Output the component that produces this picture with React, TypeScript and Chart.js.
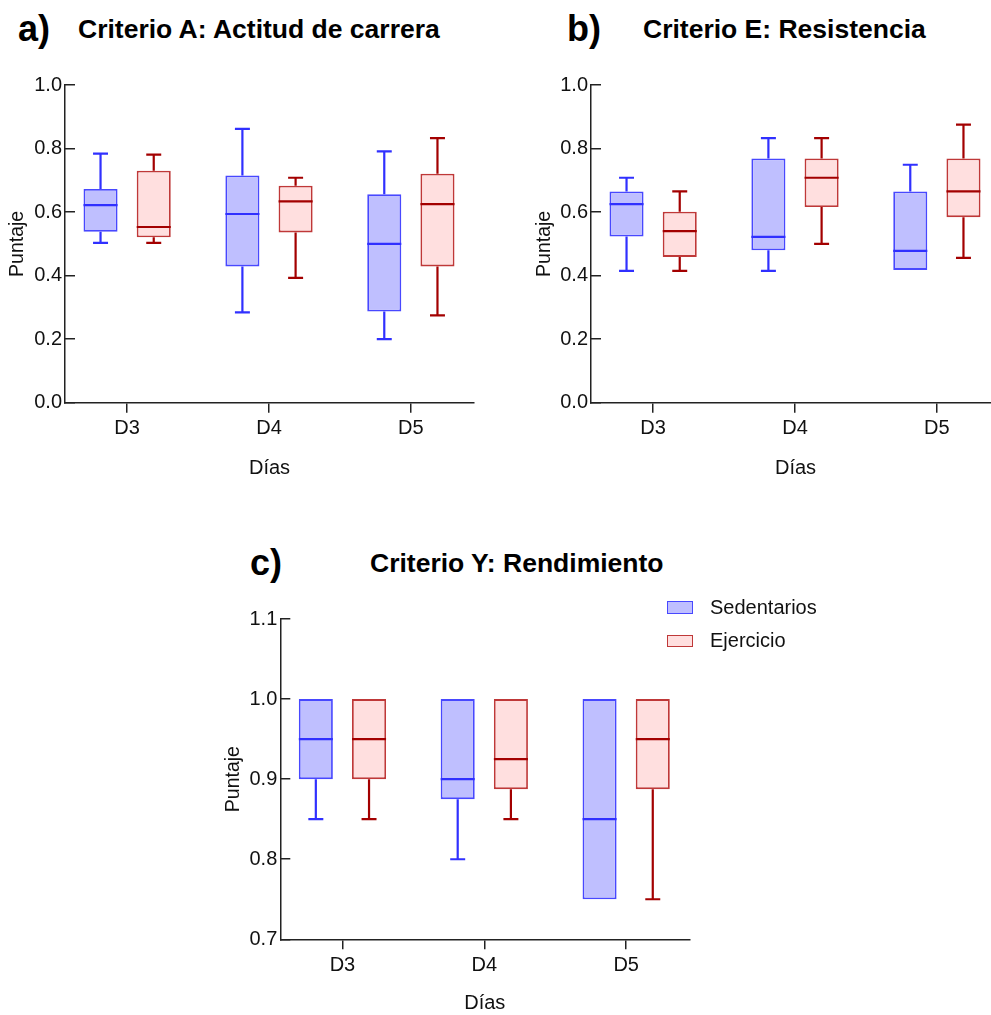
import React, { useEffect, useRef } from 'react';
import { Chart, registerables } from 'chart.js';

Chart.register(...registerables);

const FONT = "'Liberation Sans', Arial, Helvetica, sans-serif";
Chart.defaults.font.family = FONT;

// ---------- data ----------
const days = ['D3', 'D4', 'D5'];
const seriesNames = ['Sedentarios', 'Ejercicio'];

// each entry: [min, q1, median, q3, max]
const actitudSedentarios = [
  [0.503, 0.538, 0.622, 0.673, 0.784],
  [0.284, 0.429, 0.594, 0.715, 0.862],
  [0.2, 0.287, 0.5, 0.656, 0.791],
];
const actitudEjercicio = [
  [0.503, 0.521, 0.553, 0.73, 0.781],
  [0.393, 0.536, 0.634, 0.683, 0.708],
  [0.275, 0.429, 0.625, 0.721, 0.833],
];
const resistenciaSedentarios = [
  [0.415, 0.523, 0.625, 0.665, 0.708],
  [0.415, 0.48, 0.522, 0.769, 0.833],
  [0.418, 0.418, 0.478, 0.665, 0.749],
];
const resistenciaEjercicio = [
  [0.415, 0.459, 0.54, 0.601, 0.665],
  [0.5, 0.616, 0.708, 0.769, 0.833],
  [0.456, 0.584, 0.665, 0.769, 0.875],
];
const rendimientoSedentarios = [
  [0.85, 0.9, 0.95, 1.0, 1.0],
  [0.8, 0.875, 0.9, 1.0, 1.0],
  [0.75, 0.75, 0.85, 1.0, 1.0],
];
const rendimientoEjercicio = [
  [0.85, 0.9, 0.95, 1.0, 1.0],
  [0.85, 0.8875, 0.925, 1.0, 1.0],
  [0.75, 0.8875, 0.95, 1.0, 1.0],
];

const yAxisAB = { min: 0, max: 1, step: 0.2 };
const yAxisC = { min: 0.7, max: 1.1, step: 0.1 };

// ---------- styles ----------
const SED_FILL = '#bfbfff';
const SED_BORDER = '#4848ff';
const SED_LINE = '#3030ff';
const EJ_FILL = '#ffdfdf';
const EJ_BORDER = '#bf3838';
const EJ_LINE = '#a30000';
const AXIS = '#222222';
const TEXT = '#111111';

const boxPlugin = {
  id: 'boxWhiskers',
  afterDatasetsDraw(chart: any) {
    const ctx = chart.ctx;
    const y = chart.scales.y;
    chart.data.datasets.forEach((ds: any, di: number) => {
      const meta = chart.getDatasetMeta(di);
      meta.data.forEach((bar: any, i: number) => {
        const { x, width } = bar.getProps(['x', 'width'], true);
        const [mn, q1, md, q3, mx] = ds.stats[i];
        const half = width / 2;
        const cap = width * 0.22;
        ctx.save();
        ctx.strokeStyle = ds.lineColor;
        ctx.lineWidth = 2.2;
        ctx.beginPath();
        if (mx > q3) {
          const yq3 = y.getPixelForValue(q3);
          const ymx = y.getPixelForValue(mx);
          ctx.moveTo(x, yq3);
          ctx.lineTo(x, ymx);
          ctx.moveTo(x - cap, ymx);
          ctx.lineTo(x + cap, ymx);
        }
        if (mn < q1) {
          const yq1 = y.getPixelForValue(q1);
          const ymn = y.getPixelForValue(mn);
          ctx.moveTo(x, yq1);
          ctx.lineTo(x, ymn);
          ctx.moveTo(x - cap, ymn);
          ctx.lineTo(x + cap, ymn);
        }
        const ymd = y.getPixelForValue(md);
        ctx.moveTo(x - half, ymd);
        ctx.lineTo(x + half, ymd);
        ctx.stroke();
        ctx.restore();
      });
    });
  },
};

type Area = { left: number; top: number; right: number; bottom: number };

type BoxChartProps = {
  pos: { left: number; top: number; width: number; height: number };
  area: Area;
  sed: number[][];
  ej: number[][];
  yAxis: { min: number; max: number; step: number };
  yTitlePad: number;
  xTitlePad: number;
};

function BoxChart({ pos, area, sed, ej, yAxis, yTitlePad, xTitlePad }: BoxChartProps) {
  const ref = useRef<HTMLCanvasElement | null>(null);
  useEffect(() => {
    if (!ref.current) return;
    const W = pos.width;
    const H = pos.height;
    const mk = (name: string, stats: number[][], fill: string, border: string, line: string) => ({
      label: name,
      data: stats.map((s, i) => ({ x: i, y: [s[1], s[3]] })),
      stats,
      lineColor: line,
      backgroundColor: fill,
      borderColor: border,
      borderWidth: 1.8,
      borderSkipped: false,
      categoryPercentage: 0.75,
      barPercentage: 0.64,
    });
    const chart = new Chart(ref.current, {
      type: 'bar',
      data: {
        datasets: [
          mk(seriesNames[0], sed, SED_FILL, SED_BORDER, SED_LINE),
          mk(seriesNames[1], ej, EJ_FILL, EJ_BORDER, EJ_LINE),
        ] as any,
      },
      plugins: [boxPlugin],
      options: {
        responsive: false,
        animation: false,
        events: [],
        layout: { padding: { left: 0, top: area.top, right: W - area.right, bottom: 0 } },
        plugins: { legend: { display: false }, tooltip: { enabled: false }, title: { display: false } },
        scales: {
          x: {
            type: 'linear',
            min: -0.438,
            max: 2.445,
            offset: false,
            bounds: 'data',
            afterBuildTicks: (s: any) => {
              s.ticks = days.map((_, i) => ({ value: i }));
            },
            afterFit: (s: any) => {
              s.height = H - area.bottom;
            },
            ticks: {
              callback: (v: any) => days[Number(v)] ?? '',
              color: TEXT,
              font: { size: 20 },
              padding: 4,
              maxRotation: 0,
              autoSkip: false,
            },
            grid: {
              display: true,
              drawOnChartArea: false,
              drawTicks: true,
              tickLength: 10,
              color: AXIS,
              lineWidth: 1.5,
              offset: false,
            },
            border: { display: true, color: AXIS, width: 1.5 },
            title: {
              display: true,
              text: 'Días',
              color: TEXT,
              font: { size: 20 },
              padding: { top: 0, bottom: xTitlePad },
            },
          },
          y: {
            type: 'linear',
            min: yAxis.min,
            max: yAxis.max,
            afterFit: (s: any) => {
              s.width = area.left;
            },
            ticks: {
              stepSize: yAxis.step,
              callback: (v: any) => Number(v).toFixed(1),
              color: TEXT,
              font: { size: 20 },
              padding: 13,
            },
            grid: {
              display: true,
              drawOnChartArea: false,
              drawTicks: true,
              tickLength: -10,
              color: AXIS,
              lineWidth: 1.5,
            },
            border: { display: true, color: AXIS, width: 1.5 },
            title: {
              display: true,
              text: 'Puntaje',
              color: TEXT,
              font: { size: 19.5 },
              padding: { top: yTitlePad, bottom: 0 },
            },
          },
        },
      } as any,
    });
    return () => chart.destroy();
  }, []);
  return (
    <canvas
      ref={ref}
      width={pos.width}
      height={pos.height}
      style={{ position: 'absolute', left: pos.left, top: pos.top, width: pos.width, height: pos.height }}
    />
  );
}

const letterStyle: React.CSSProperties = {
  position: 'absolute',
  fontFamily: FONT,
  fontWeight: 'bold',
  fontSize: 36,
  lineHeight: 1,
  color: '#000',
  whiteSpace: 'nowrap',
};
const titleStyle: React.CSSProperties = {
  position: 'absolute',
  fontFamily: FONT,
  fontWeight: 'bold',
  fontSize: 26.5,
  lineHeight: 1,
  color: '#000',
  whiteSpace: 'nowrap',
};
const legendText: React.CSSProperties = {
  position: 'absolute',
  fontFamily: FONT,
  fontSize: 20,
  lineHeight: 1,
  color: TEXT,
  whiteSpace: 'nowrap',
};

export default function App() {
  return (
    <div
      style={{
        position: 'absolute',
        left: 0,
        top: 0,
        width: 991,
        height: 1015,
        overflow: 'hidden',
        background: '#fff',
      }}
    >
      <div style={{ ...letterStyle, left: 18, top: 10.5 }}>a)</div>
      <div style={{ ...titleStyle, left: 78, top: 15.6 }}>Criterio A: Actitud de carrera</div>
      <div style={{ ...letterStyle, left: 567, top: 10.5 }}>b)</div>
      <div style={{ ...titleStyle, left: 643, top: 15.6 }}>Criterio E: Resistencia</div>
      <div style={{ ...letterStyle, left: 250, top: 544.5 }}>c)</div>
      <div style={{ ...titleStyle, left: 370, top: 549.6 }}>Criterio Y: Rendimiento</div>

      <BoxChart
        pos={{ left: 0, top: 60, width: 480, height: 430 }}
        area={{ left: 65, top: 22.7, right: 474, bottom: 342.7 }}
        sed={actitudSedentarios}
        ej={actitudEjercicio}
        yAxis={yAxisAB}
        yTitlePad={5.5}
        xTitlePad={10}
      />
      <BoxChart
        pos={{ left: 520, top: 60, width: 480, height: 430 }}
        area={{ left: 71, top: 22.7, right: 480, bottom: 342.7 }}
        sed={resistenciaSedentarios}
        ej={resistenciaEjercicio}
        yAxis={yAxisAB}
        yTitlePad={12.6}
        xTitlePad={10}
      />
      <BoxChart
        pos={{ left: 220, top: 580, width: 480, height: 435 }}
        area={{ left: 60.3, top: 39, right: 469.3, bottom: 359.3 }}
        sed={rendimientoSedentarios}
        ej={rendimientoEjercicio}
        yAxis={yAxisC}
        yTitlePad={1.6}
        xTitlePad={0}
      />

      <div
        style={{
          position: 'absolute',
          left: 667,
          top: 601,
          width: 26,
          height: 12.5,
          boxSizing: 'border-box',
          background: SED_FILL,
          border: `1.5px solid ${SED_BORDER}`,
        }}
      />
      <div style={{ ...legendText, left: 710, top: 597.1 }}>{seriesNames[0]}</div>
      <div
        style={{
          position: 'absolute',
          left: 667,
          top: 634.5,
          width: 26,
          height: 12.5,
          boxSizing: 'border-box',
          background: EJ_FILL,
          border: `1.5px solid ${EJ_BORDER}`,
        }}
      />
      <div style={{ ...legendText, left: 710, top: 630.1 }}>{seriesNames[1]}</div>
    </div>
  );
}
